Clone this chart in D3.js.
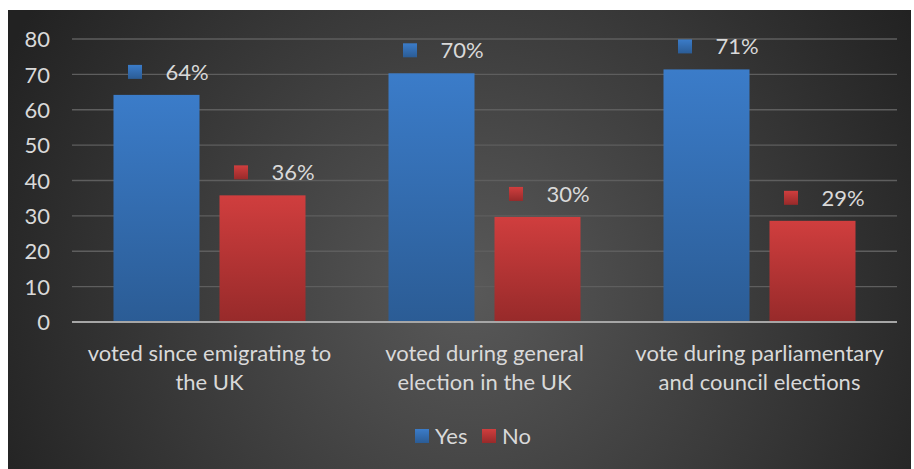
<!DOCTYPE html>
<html><head><meta charset="utf-8">
<script src="https://cdn.jsdelivr.net/npm/d3@7"></script>
<style>html,body{margin:0;padding:0;background:#fff;}svg{display:block;}</style>
</head><body>
<script>
const categories = [["voted since emigrating to","the UK"],["voted during general","election in the UK"],["vote during parliamentary","and council elections"]];
const seriesNames = ["Yes","No"];
const yesValues = [64.2, 70.3, 71.4];
const noValues = [35.8, 29.7, 28.6];
const labelsYes = ["64%","70%","71%"];
const labelsNo = ["36%","30%","29%"];
const yTicks = [0,10,20,30,40,50,60,70,80];

const W = 914, H = 469;
const svg = d3.select("body").append("svg").attr("width", W).attr("height", H);
const defs = svg.append("defs");
const bg = defs.append("radialGradient").attr("id","bg").attr("gradientUnits","userSpaceOnUse")
  .attr("cx",470).attr("cy",290).attr("r",520);
bg.append("stop").attr("offset","0%").attr("stop-color","#595959");
bg.append("stop").attr("offset","100%").attr("stop-color","#222222");
function vgrad(id, top, bot){
  const g = defs.append("linearGradient").attr("id",id).attr("x1",0).attr("y1",0).attr("x2",0).attr("y2",1);
  g.append("stop").attr("offset","0%").attr("stop-color",top);
  g.append("stop").attr("offset","100%").attr("stop-color",bot);
}
vgrad("gYes","#3b7cc9","#2b5c95");
vgrad("gNo","#d03e3e","#972a2a");
const fills = ["url(#gYes)","url(#gNo)"];

svg.append("rect").attr("x",8).attr("y",10).attr("width",903).attr("height",459).attr("fill","url(#bg)");

const x0 = d3.scaleBand().domain(d3.range(categories.length)).range([72,897]).paddingInner(0).paddingOuter(0);
const y = d3.scaleLinear().domain([0,80]).range([322,39]);
const font = "Lato, 'Open Sans', sans-serif";
const txt = "#d9d9d9";
const fs = 22;

svg.append("g").selectAll("line").data(yTicks.filter(d=>d>0)).join("line")
  .attr("x1",72).attr("x2",897).attr("y1",d=>y(d)).attr("y2",d=>y(d))
  .attr("stroke","#5e5e5e").attr("stroke-width",1.3);

const yAxis = d3.axisLeft(y).tickValues(yTicks).tickSize(0).tickPadding(0);
const ya = svg.append("g").attr("transform","translate(50,0)").call(yAxis);
ya.select(".domain").remove();
ya.selectAll("text").attr("font-family",font).attr("font-size",fs).attr("fill",txt).attr("dy","0.35em");

const bw = 86, gap = 20;
const data = [yesValues, noValues];
const labels = [labelsYes, labelsNo];
data.forEach((vals, s) => {
  const g = svg.append("g");
  vals.forEach((v, i) => {
    const c = x0(i) + x0.bandwidth()/2;
    const xl = s === 0 ? c - gap/2 - bw : c + gap/2;
    g.append("rect").attr("x",xl).attr("y",y(v)).attr("width",bw).attr("height",y(0)-y(v)).attr("fill",fills[s]);
    const bc = xl + bw/2;
    const ly = y(v) - 23;
    g.append("rect").attr("x",bc-28.5).attr("y",ly-7).attr("width",14).attr("height",14).attr("fill",fills[s]);
    g.append("text").attr("x",bc+9).attr("y",ly).attr("dy","0.35em")
      .attr("font-family",font).attr("font-size",fs).attr("fill",txt).text(labels[s][i]);
  });
});

svg.append("line").attr("x1",72).attr("x2",897).attr("y1",y(0)).attr("y2",y(0))
  .attr("stroke","#a6a6a6").attr("stroke-width",2.2);

categories.forEach((lines, i) => {
  const c = x0(i) + x0.bandwidth()/2;
  lines.forEach((ln, j) => {
    svg.append("text").attr("x",c).attr("y",353 + j*29).attr("dy","0.35em").attr("text-anchor","middle")
      .attr("font-family",font).attr("font-size",fs).attr("fill",txt).text(ln);
  });
});

const leg = svg.append("g");
const legItems = [{x:415, tx:435}, {x:482, tx:502}];
seriesNames.forEach((n, s) => {
  leg.append("rect").attr("x",legItems[s].x).attr("y",429).attr("width",14).attr("height",14).attr("fill",fills[s]);
  leg.append("text").attr("x",legItems[s].tx).attr("y",436).attr("dy","0.35em")
    .attr("font-family",font).attr("font-size",fs).attr("fill",txt).text(n);
});
</script>
</body></html>
